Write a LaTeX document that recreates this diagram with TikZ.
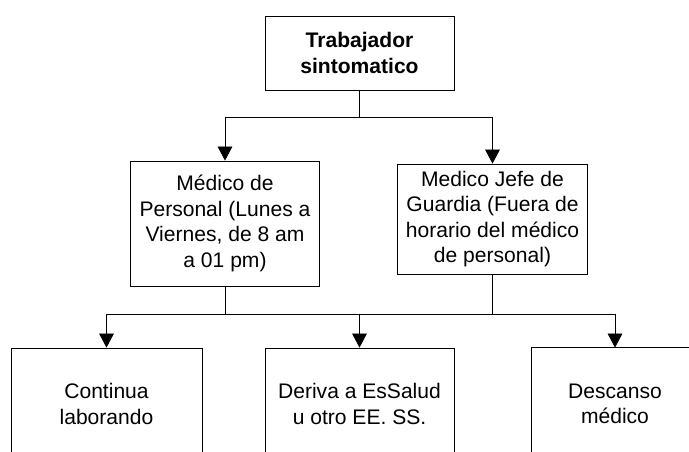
\documentclass[tikz,border=0pt]{standalone}
\usepackage{fontspec}
\setmainfont{Liberation Sans}
\usetikzlibrary{arrows.meta}

\tikzset{
  caja/.style={draw, line width=0.6pt, align=center, inner sep=0pt,
    font=\fontsize{15.8}{19.1}\selectfont},
  flecha/.style={line width=0.6pt, -{Triangle[length=10.5pt, width=11pt]}},
  linea/.style={line width=0.6pt}
}

\begin{document}
\begin{tikzpicture}[x=0.75pt,y=0.75pt,yscale=-1,xscale=1]
    \useasboundingbox (0,0) rectangle (689,452);
    \clip (0,0) rectangle (689,452);

    % Text Node
    \node (trab) [caja, minimum width=189*0.75pt, minimum height=74*0.75pt] at (359.5,53) {\bfseries Trabajador\\\bfseries sintomatico};
    % Text Node
    \node (medper) [caja, minimum width=189*0.75pt, minimum height=125*0.75pt] at (225,223.5) {Médico de\\Personal (Lunes a\\Viernes, de 8 am\\a 01 pm)};
    % Text Node
    \node (jefe) [caja, minimum width=190*0.75pt, minimum height=110*0.75pt] at (492.5,219) {Medico Jefe de\\Guardia (Fuera de\\horario del médico\\de personal)};
    % Text Node
    \node (cont) [caja, minimum width=191*0.75pt, minimum height=112*0.75pt] at (106.5,404) {Continua\\laborando};
    % Text Node
    \node (deriva) [caja, minimum width=189*0.75pt, minimum height=112*0.75pt] at (359.5,404) {Deriva a EsSalud\\u otro EE. SS.};
    % Text Node
    \node (desc) [caja, draw=none, minimum width=166*0.75pt, minimum height=112*0.75pt] at (615,404) {Descanso\\médico};
    %Shape: open box (runs past the right edge)
    \draw [linea] ([xshift=30*0.75pt]desc.north east) -- (desc.north west) -- (desc.south west);

    %Junctions
    \coordinate (r0) at (359.5,117);
    \coordinate (r1) at (225,117);
    \coordinate (r2) at (492.5,117);
    \coordinate (s1) at (225,314);
    \coordinate (s2) at (492.5,314);
    \coordinate (s3) at (106.5,314);
    \coordinate (s4) at (359.5,314);
    \coordinate (s5) at (615,314);

    %Straight Lines
    \draw [linea] (trab.south) -- (r0);
    \draw [linea] (r1) -- (r2);
    \draw [flecha] (r1) -- (r1 |- medper.north);
    \draw [flecha] (r2) -- (r2 |- jefe.north);
    %Straight Lines
    \draw [linea] (medper.south) -- (s1);
    \draw [linea] (jefe.south) -- (s2);
    \draw [linea] (s3) -- (s5);
    \draw [flecha] (s3) -- (s3 |- cont.north);
    \draw [flecha] (s4) -- (s4 |- deriva.north);
    \draw [flecha] (s5) -- (s5 |- desc.north);

\end{tikzpicture}
\end{document}
